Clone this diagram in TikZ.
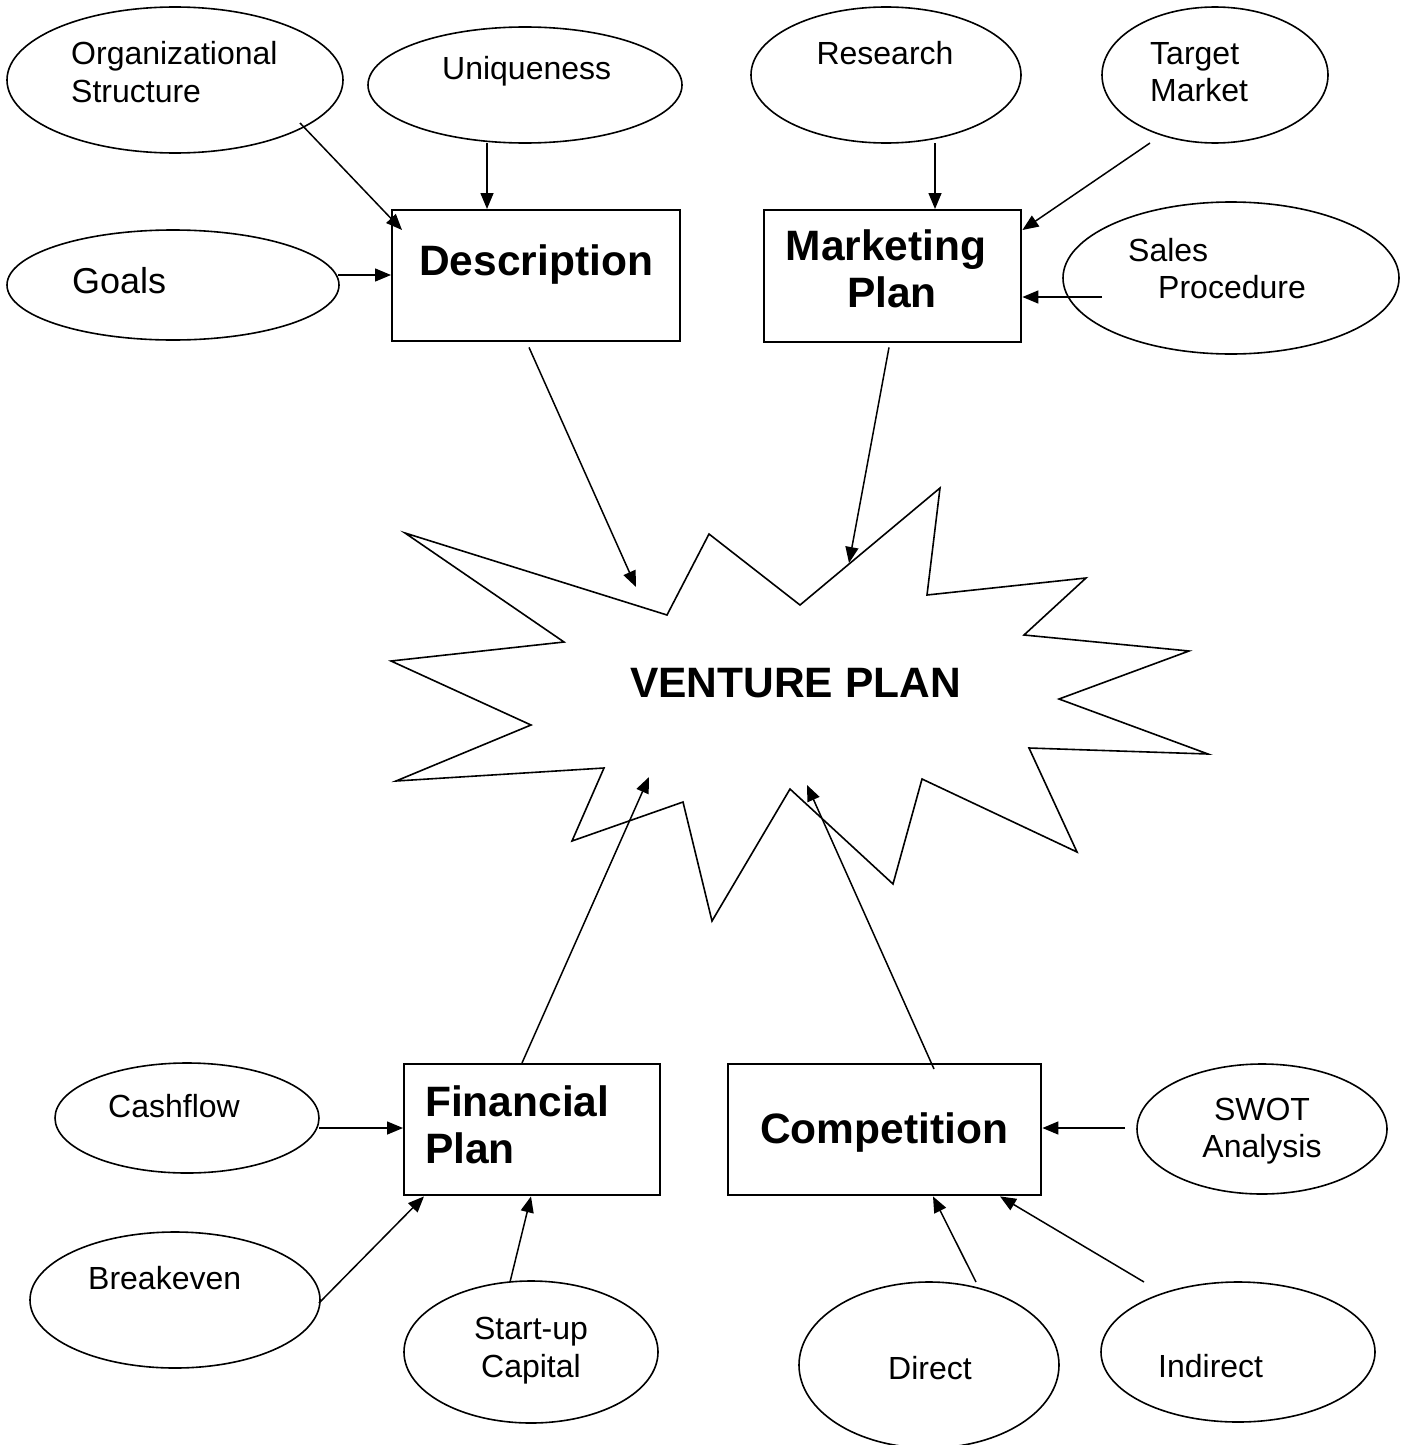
\documentclass[tikz,border=0pt]{standalone}
\usepackage{fontspec}
\setmainfont{Liberation Sans}
\usetikzlibrary{arrows.meta,shapes.geometric}

\begin{document}
\begin{tikzpicture}[x=1pt,y=-1pt,
  oval/.style={draw, ellipse, line width=1.6pt, inner sep=0pt},
  box/.style={draw, rectangle, line width=2.4pt, inner sep=0pt, anchor=north west},
  lbl/.style={font=\fontsize{32}{37}\selectfont, inner sep=0pt},
  goallbl/.style={font=\fontsize{36}{41}\selectfont, inner sep=0pt},
  head/.style={font=\fontsize{42.5}{49}\selectfont\bfseries, inner sep=0pt},
  arr/.style={line width=1.5pt, -{Triangle[length=16pt,width=13pt]}},
  burst/.style={draw, line width=1.6pt, line join=miter},
]
\useasboundingbox (0,0) rectangle (1404,1445);

% ---------- boxes ----------
\node[box, minimum width=288pt, minimum height=131pt] (desc) at (391,209) {};
\node[box, minimum width=257pt, minimum height=132pt] (mkt)  at (763,209) {};
\node[box, minimum width=256pt, minimum height=131pt] (fin)  at (403,1063) {};
\node[box, minimum width=313pt, minimum height=131pt] (comp) at (727,1063) {};

\node[head, anchor=base west] (desc-t) at (419,275) {Description};
\node[head, anchor=base] (mkt-t1) at (886,260) {Marketing};
\node[head, anchor=base] (mkt-t2) at (892,307) {Plan};
\node[head, anchor=base west] (fin-t1) at (425,1116) {Financial};
\node[head, anchor=base west] (fin-t2) at (425,1163) {Plan};
\node[head, anchor=base west] (comp-t) at (760,1143) {Competition};

% ---------- ellipses ----------
\node[oval, minimum width=336pt, minimum height=146pt] (org)      at (175,80) {};
\node[oval, minimum width=314pt, minimum height=116pt] (uniq)     at (525,85) {};
\node[oval, minimum width=332pt, minimum height=110pt] (goals)    at (173,285) {};
\node[oval, minimum width=270pt, minimum height=136pt] (research) at (886,75) {};
\node[oval, minimum width=226pt, minimum height=136pt] (target)   at (1215,75) {};
\node[oval, minimum width=336pt, minimum height=152pt] (sales)    at (1231,278) {};
\node[oval, minimum width=264pt, minimum height=110pt] (cash)     at (187,1118) {};
\node[oval, minimum width=290pt, minimum height=136pt] (brk)      at (175,1300) {};
\node[oval, minimum width=254pt, minimum height=142pt] (startup)  at (531,1352) {};
\node[oval, minimum width=250pt, minimum height=130pt] (swot)     at (1262,1129) {};
\node[oval, minimum width=260pt, minimum height=166pt] (direct)   at (929,1365) {};
\node[oval, minimum width=274pt, minimum height=140pt] (indirect) at (1238,1352) {};

\node[lbl, anchor=base west] (org-t1) at (71,65) {Organizational};
\node[lbl, anchor=base west] (org-t2) at (71,102) {Structure};
\node[lbl, anchor=base west] (uniq-t) at (442,80) {Uniqueness};
\node[goallbl, anchor=base west] (goals-t) at (72,293) {Goals};
\node[lbl, anchor=base] (research-t) at (885,65) {Research};
\node[lbl, anchor=base west] (target-t1) at (1150,64) {Target};
\node[lbl, anchor=base west] (target-t2) at (1150,101) {Market};
\node[lbl, anchor=base west] (sales-t1) at (1128,261) {Sales};
\node[lbl, anchor=base west] (sales-t2) at (1158,298) {Procedure};
\node[lbl, anchor=base west] (cash-t) at (108,1117) {Cashflow};
\node[lbl, anchor=base west] (brk-t) at (88,1289) {Breakeven};
\node[lbl, anchor=base] (startup-t1) at (531,1339) {Start-up};
\node[lbl, anchor=base] (startup-t2) at (531,1377) {Capital};
\node[lbl, anchor=base] (swot-t1) at (1262,1120) {SWOT};
\node[lbl, anchor=base] (swot-t2) at (1262,1157) {Analysis};
\node[lbl, anchor=base west] (direct-t) at (888,1379) {Direct};
\node[lbl, anchor=base west] (indirect-t) at (1158,1377) {Indirect};

% ---------- central starburst ----------
\draw[burst] (405,533) -- (667,615) -- (709,534) -- (800,605) -- (940,488)
  -- (927,595) -- (1086,578) -- (1024,635) -- (1189,651) -- (1059,699)
  -- (1208,754) -- (1029,748) -- (1077,852) -- (922,779) -- (893,884)
  -- (790,789) -- (712,921) -- (683,802) -- (572,841) -- (604,768)
  -- (396,781) -- (531,725) -- (391,661) -- (564,642) -- cycle;
\node[head, anchor=base west] (venture) at (630,697) {VENTURE PLAN};

\coordinate (vp-desc) at (636,587);
\coordinate (vp-mkt)  at (849,563);
\coordinate (vp-fin)  at (649,777);
\coordinate (vp-comp) at (807,785);

% ---------- connectors ----------
\draw[arr] ([shift={(125,43)}]org.center) -- ([shift={(11,21)}]desc.north west);
\draw[arr] ([shift={(-38,58)}]uniq.center) -- ([shift={(96,0)}]desc.north west);
\draw[arr] ([shift={(165,-10)}]goals.center) -- ([shift={(0,66)}]desc.north west);

\draw[arr] ([shift={(49,68)}]research.center) -- ([shift={(172,0)}]mkt.north west);
\draw[arr] ([shift={(-65,68)}]target.center) -- ([shift={(0,21)}]mkt.north east);
\draw[arr] ([shift={(-129,19)}]sales.center) -- ([shift={(0,88)}]mkt.north east);

\draw[arr] ([shift={(138,5)}]desc.south west) -- (vp-desc);
\draw[arr] ([shift={(126,4)}]mkt.south west) -- (vp-mkt);
\draw[arr] ([shift={(119,0)}]fin.north west) -- (vp-fin);
\draw[arr] ([shift={(207,6)}]comp.north west) -- (vp-comp);

\draw[arr] ([shift={(132,10)}]cash.center) -- ([shift={(0,65)}]fin.north west);
\draw[arr] ([shift={(144,3)}]brk.center) -- ([shift={(21,0)}]fin.south west);
\draw[arr] ([shift={(-21,-70)}]startup.center) -- ([shift={(128,0)}]fin.south west);

\draw[arr] ([shift={(-137,-1)}]swot.center) -- ([shift={(0,65)}]comp.north east);
\draw[arr] ([shift={(47,-83)}]direct.center) -- ([shift={(206,0)}]comp.south west);
\draw[arr] ([shift={(-94,-70)}]indirect.center) -- ([shift={(273,0)}]comp.south west);
\end{tikzpicture}
\end{document}
